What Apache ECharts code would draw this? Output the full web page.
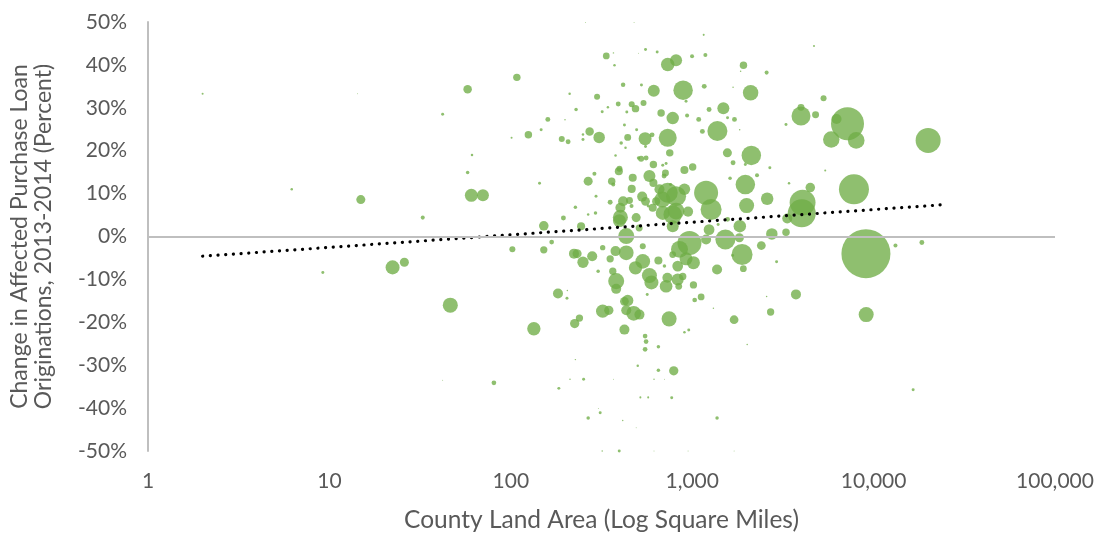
<!DOCTYPE html>
<html><head><meta charset="utf-8">
<script src="https://cdn.jsdelivr.net/npm/echarts@6/dist/echarts.min.js"></script>
<style>html,body{margin:0;padding:0;background:#fff}#c{width:1098px;height:533px}</style>
</head><body><div id="c"></div>
<script>
// County land area (square miles)
const landArea = [
2.0,6.2,9.2,14.3,14.9,22.3,25.9,32.7,42.1,42.1,
46.4,57.8,57.8,61.1,60.6,70.2,80.7,101,102,108,
125,134,144,147,152,152,160,168,182,184,
185,191,195,199,204,207,211,212,223,225,
227,229,227,232,239,244,250,250,250,252,
258,267,267,267,272,281,289,293,295,299,
303,307,311,319,321,321,319,336,343,347,
353,353,360,365,367,368,373,378,378,381,
381,391,394,397,397,396,402,402,406,416,
416,414,423,423,423,429,433,433,433,436,
441,441,451,464,464,470,476,478,487,487,
491,491,494,501,506,510,506,512,518,523,
525,530,534,534,539,550,550,550,553,553,
553,557,557,565,572,572,581,596,581,601,
611,611,614,606,616,616,633,641,651,651,
651,660,685,674,688,688,700,703,703,712,
718,718,730,733,733,733,746,752,759,771,
781,781,781,781,791,815,815,815,832,832,
843,851,887,891,906,906,906,925,925,937,
949,949,957,966,998,1006,1016,1016,1032,1086,
1120,1138,1157,1165,1182,1193,1193,1239,1239,1271,
1309,1371,1371,1377,1390,1485,1524,1563,1566,1566,
1617,1671,1680,1680,1702,1702,1710,1830,1820,1827,
1849,1883,1914,1917,1963,1963,1995,2010,2099,2118,
2277,2405,2572,2572,2590,2679,2706,2748,2919,3289,
3289,3418,3343,3733,3979,3979,4060,4018,4477,4692,
4787,5298,5412,5843,6248,7180,7792,8020,9073,9101,
13200,18450,19980,16520,463,205,304,368
];
// Change in affected purchase loan originations, 2013-2014 (%)
const changePct = [
33.3,11.0,-8.4,33.3,8.6,-7.2,-6.0,4.4,28.5,-33.5,
-16.0,34.3,14.9,19.0,9.6,9.6,-34.1,23.0,-3.0,37.1,
23.7,-21.5,12.4,24.9,2.5,-3.1,27.3,-1.3,-13.3,-35.4,
-0.1,22.7,4.3,27.2,-14.4,22.1,33.3,-33.3,-4.0,-20.3,
6.8,29.6,-28.7,-4.0,-19.0,2.4,23.8,22.6,-6.0,-33.3,
49.9,12.9,5.1,-42.3,24.5,-4.6,14.6,5.5,9.4,32.6,
-8.1,23.1,-41.1,29.1,-2.6,-17.4,-50.0,42.1,30.1,-17.2,
8.0,-5.2,12.9,-8.1,12.1,42.8,39.9,18.9,-3.4,-10.4,
-12.2,30.9,15.2,15.8,3.7,-50.0,6.7,4.5,21.8,35.4,
8.2,-42.9,26.0,-15.1,-21.7,20.7,0.1,-3.8,-17.2,29.0,
23.1,-14.9,8.4,30.8,11.1,13.7,-17.9,49.9,29.8,-7.3,
4.4,-44.6,24.9,-30.1,18.3,2.0,42.7,-18.2,-37.5,18.1,
35.3,9.3,-5.8,-2.3,31.1,22.8,-23.2,-26.3,43.6,21.0,
8.2,-24.5,18.3,-13.5,-37.5,7.1,14.1,-10.7,-9.1,23.7,
16.8,12.5,34.0,6.7,-33.3,-50.0,8.2,43.0,-25.7,-31.2,
-5.6,11.0,8.6,28.8,16.6,5.5,14.1,-6.9,-33.3,14.8,
17.0,-11.6,-9.6,40.1,23.0,10.2,-19.2,19.5,12.1,-37.6,
27.6,5.1,2.4,-4.2,-31.3,41.1,9.4,5.9,-6.9,-10.0,
-11.6,-3.0,-9.3,34.1,11.0,15.5,-22.3,31.5,-5.2,28.2,
5.8,-50.0,-21.8,-1.5,42.0,16.2,-6.1,-11.3,-14.8,27.3,
-14.1,24.5,47.0,35.0,42.3,10.2,-0.7,29.6,1.6,6.3,
-16.7,-7.7,-42.3,24.6,2.8,29.9,-0.7,19.5,27.7,4.0,
13.6,-4.4,17.2,34.8,-19.4,-50.0,27.3,2.4,-0.3,24.9,
38.5,-4.2,-7.5,39.9,16.8,12.1,7.2,-25.2,33.5,18.9,
14.3,-2.1,38.2,-14.0,8.8,16.0,-17.6,0.6,-5.9,26.1,
1.0,12.4,4.2,-13.5,28.1,30.1,7.9,5.4,11.4,44.4,
28.4,32.2,15.4,22.6,27.4,26.3,11.0,22.4,-4.0,-18.2,
-2.1,-1.4,22.4,-35.7,7.1,-12.6,-40.1,-33.3
];
// Relative bubble size (largest county = 100)
const bubbleSize = [
0.17,0.26,0.37,0.04,3.4,8.2,3.4,0.67,0.37,0.04,
9.4,3.0,0.51,0.26,7.0,6.0,0.92,0.17,1.5,2.3,
2.3,7.4,0.37,0.37,3.8,2.2,1.0,0.92,4.2,0.37,
0.17,1.5,1.0,0.09,0.37,1.0,0.26,0.09,4.2,3.6,
0.51,0.51,0.09,3.4,2.2,2.7,0.26,0.37,5.3,0.37,
0.04,3.4,0.26,0.51,3.0,4.2,0.67,0.51,0.37,1.5,
0.51,5.5,0.37,0.37,1.2,7.4,0.09,1.9,0.26,3.6,
1.0,2.2,2.3,2.2,0.67,0.09,0.26,0.26,4.2,10.7,
4.2,1.0,2.7,1.5,7.0,0.37,4.2,9.4,0.51,0.84,
4.2,0.09,0.37,3.2,4.2,0.26,10.7,9.0,4.2,0.37,
2.0,5.3,2.0,1.5,2.7,2.7,9.0,0.04,2.3,7.4,
3.4,0.04,0.37,0.26,0.51,2.0,0.04,4.2,0.17,1.5,
0.37,4.2,9.0,1.5,1.5,7.0,0.92,0.92,0.37,0.37,
3.2,0.92,1.0,0.37,0.17,0.37,6.0,8.2,9.4,1.0,
2.3,2.7,6.0,2.7,0.09,0.04,2.7,0.37,0.51,0.51,
2.7,4.2,10.7,2.3,0.37,8.2,1.0,0.51,0.04,2.0,
0.37,6.7,4.2,7.6,13.5,16.7,9.4,2.3,0.37,0.37,
6.5,14.3,6.0,1.9,3.6,6.0,16.7,11.6,4.8,6.0,
1.9,12.0,2.2,15.8,5.5,2.7,0.26,0.37,7.0,0.67,
4.2,0.04,0.37,24.0,0.67,2.3,7.0,2.2,0.92,1.0,
1.9,1.0,0.17,1.0,0.67,24.0,4.2,1.0,4.8,18.4,
0.09,4.2,0.51,16.7,0.37,6.0,16.7,3.4,0.37,1.0,
0.51,0.37,1.0,0.09,3.2,0.04,1.0,6.5,3.4,0.09,
0.09,18.4,1.9,2.3,0.37,15.8,9.4,0.09,10.0,15.8,
0.67,3.2,0.67,0.09,6.5,0.37,2.2,5.5,0.37,0.37,
2.3,0.26,4.2,4.2,15.0,2.0,28,32.7,3.8,0.17,
2.0,1.5,0.17,11.3,4.2,45.4,37.5,11.6,100,9.4,
0.67,1.0,26,0.37,0.67,0.09,0.04,0.04
];
// Logarithmic trendline end points
const trendX = [2, 24150];
const trendY = [-4.6, 7.4];

const xAxisTitle = 'County Land Area (Log Square Miles)';
const yAxisTitle = 'Change in Affected Purchase Loan\nOriginations, 2013-2014 (Percent)';

const bubbles = landArea.map((x, i) => [x, changePct[i], bubbleSize[i]]);
const trend = trendX.map((x, i) => [x, trendY[i]]);

const FONT = 'Lato';
const GREY = '#595959';
const chart = echarts.init(document.getElementById('c'), null, {renderer: 'canvas'});
chart.setOption({
  animation: false,
  backgroundColor: '#ffffff',
  grid: {left: 148, right: 43, top: 22, bottom: 82, containLabel: false, outerBoundsMode: 'none'},
  xAxis: {
    type: 'log', logBase: 10, min: 1, max: 100000,
    name: xAxisTitle, nameLocation: 'middle', nameGap: 57,
    nameTextStyle: {color: GREY, fontFamily: FONT, fontSize: 24.5},
    axisLine: {show: false}, axisTick: {show: false}, splitLine: {show: false},
    axisLabel: {color: GREY, fontFamily: FONT, fontSize: 21, margin: 20,
      formatter: v => Number(v).toLocaleString('en-US')}
  },
  yAxis: {
    type: 'value', min: -50, max: 50, interval: 10,
    name: yAxisTitle, nameLocation: 'middle', nameRotate: 90, nameGap: 92,
    nameTextStyle: {color: GREY, fontFamily: FONT, fontSize: 23, lineHeight: 24, align: 'center'},
    axisLine: {show: true, lineStyle: {color: '#BFBFBF', width: 2}},
    axisTick: {show: false}, splitLine: {show: false},
    axisLabel: {color: GREY, fontFamily: FONT, fontSize: 21, margin: 21, formatter: '{value}%'}
  },
  series: [
    {
      type: 'line', data: [], z: 1, silent: true,
      markLine: {silent: true, symbol: 'none', label: {show: false},
        lineStyle: {color: '#BFBFBF', width: 2, type: 'solid'},
        data: [{yAxis: 0}]}
    },
    {
      type: 'scatter', data: bubbles, z: 2, silent: true,
      symbolSize: v => 4.9 * Math.sqrt(v[2]),
      itemStyle: {color: '#70AD47', opacity: 0.78}
    },
    {
      type: 'line', data: trend, z: 3, silent: true, symbol: 'none',
      lineStyle: {color: '#000000', width: 3.2, type: [0.1, 7.6], cap: 'round'}
    }
  ]
});
</script>
</body></html>
